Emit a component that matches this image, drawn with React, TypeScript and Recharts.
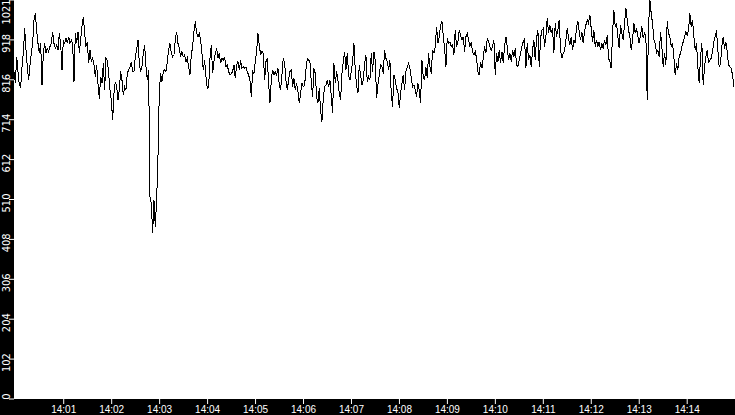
import React from 'react';
import { LineChart, Line, XAxis, YAxis, CartesianGrid } from 'recharts';

// Readings every ~1.67 s, starting 2.2 s before 14:00:00 (seconds since 14:00:00)
const START_SEC = -2.2;
const STEP_SEC = 1.6677;

const part1 = [838, 808, 876, 838, 803, 798, 850, 885, 948, 893, 850, 816, 855, 885, 910, 970, 987, 944, 910, 885, 910, 803, 885, 910, 885, 897, 889, 902, 910, 940, 910, 897, 906, 893, 936, 910, 842, 919, 910, 923, 910, 927, 910, 919, 910, 812, 936, 910, 940, 885, 919, 953, 978, 936, 902, 914, 859, 893, 863, 872, 855, 825, 855, 808, 769, 825, 808, 859, 791, 872, 867, 833, 791, 765, 714, 782, 812, 799, 765, 791, 838, 816, 778, 799, 791, 833, 842, 850, 863, 838];
const part2 = [838, 876, 893, 919, 859, 838, 850, 885, 906, 850, 816, 842, 518, 501, 424, 509, 441, 509, 620, 786, 833, 812, 838, 842, 838, 863, 893, 910, 885, 876, 880, 919, 940, 910, 897, 876, 889, 876, 880, 863, 872, 850, 829, 880, 902, 940, 966, 936, 927, 936, 919, 885, 842, 867, 825, 795, 799, 872, 906, 833, 863, 885, 897, 872, 885, 859, 872, 867, 876, 850, 855, 838, 829, 833, 838, 855, 821, 855, 863, 842, 867, 846, 850, 846, 850, 838, 829, 816, 774, 838];
const part3 = [833, 863, 889, 936, 906, 880, 889, 885, 816, 863, 872, 808, 757, 816, 842, 829, 838, 829, 846, 803, 791, 829, 872, 859, 816, 791, 816, 838, 842, 799, 821, 791, 808, 786, 757, 782, 808, 799, 803, 842, 872, 867, 863, 812, 774, 846, 833, 774, 757, 795, 739, 710, 769, 799, 803, 816, 799, 816, 774, 731, 859, 808, 838, 816, 782, 765, 833, 863, 889, 842, 885, 829, 816, 838, 863, 910, 842, 803, 782, 855, 829, 803, 816, 859, 880, 812, 825, 816, 885, 838];
const part4 = [889, 867, 769, 803, 829, 855, 850, 833, 893, 872, 863, 842, 867, 782, 748, 829, 816, 795, 786, 744, 782, 808, 829, 791, 838, 850, 859, 846, 821, 799, 803, 791, 774, 808, 791, 757, 867, 825, 816, 850, 821, 885, 850, 833, 893, 885, 902, 953, 910, 927, 957, 966, 931, 897, 850, 923, 910, 914, 902, 906, 880, 944, 902, 914, 944, 931, 919, 927, 889, 927, 936, 919, 902, 914, 889, 880, 889, 872, 838, 829, 863, 846, 872, 902, 885, 923, 914, 902, 893, 902];
const part5 = [919, 829, 885, 863, 893, 859, 889, 859, 902, 927, 902, 867, 885, 863, 893, 876, 897, 855, 850, 867, 885, 902, 914, 923, 846, 910, 867, 880, 850, 893, 919, 867, 923, 944, 850, 923, 944, 948, 902, 927, 974, 936, 957, 936, 948, 885, 961, 927, 944, 970, 893, 872, 885, 889, 919, 948, 923, 906, 927, 893, 919, 910, 953, 966, 940, 919, 940, 910, 940, 957, 970, 961, 983, 948, 914, 944, 902, 919, 902, 914, 893, 910, 897, 919, 906, 931, 872, 863, 846, 936];
const part6 = [995, 953, 961, 927, 897, 957, 936, 919, 961, 1000, 970, 944, 927, 893, 919, 961, 936, 948, 927, 910, 931, 953, 923, 936, 927, 765, 953, 1021, 987, 961, 919, 910, 885, 893, 876, 940, 902, 850, 885, 855, 966, 936, 927, 902, 910, 876, 829, 859, 842, 876, 885, 902, 914, 927, 940, 931, 944, 987, 953, 970, 927, 893, 910, 850, 808, 876, 910, 803, 850, 876, 893, 859, 867, 872, 889, 914, 927, 944, 893, 850, 859, 902, 927, 897, 914, 889, 855, 850, 846, 829, 799];

const values = [...part1, ...part2, ...part3, ...part4, ...part5, ...part6];

const xTickSeconds = [60, 120, 180, 240, 300, 360, 420, 480, 540, 600, 660, 720, 780, 840];
const xTickLabels = ['14:01', '14:02', '14:03', '14:04', '14:05', '14:06', '14:07', '14:08', '14:09', '14:10', '14:11', '14:12', '14:13', '14:14'];

const yTickValues = [0, 102.1, 204.2, 306.3, 408.4, 510.5, 612.6, 714.7, 816.8, 918.9, 1021];
const yTickLabels = ['0', '102', '204', '306', '408', '510', '612', '714', '816', '918', '1021'];

const data = values.map((v, i) => ({ t: START_SEC + i * STEP_SEC, v }));

const YTick = (props: any) => {
  const { y, payload } = props;
  const idx = yTickValues.indexOf(payload.value);
  const label = idx >= 0 ? yTickLabels[idx] : String(payload.value);
  const w = label.length * 5;
  let cy = y + 3.5;
  if (cy - w / 2 < 2) cy = 2 + w / 2;
  if (cy + w / 2 > 399) cy = 399 - w / 2;
  const bx = 10;
  return (
    <text
      x={bx}
      y={cy}
      transform={`rotate(-90 ${bx} ${cy})`}
      textAnchor="middle"
      fill="#fff"
      fontSize={11}
      fontFamily="'Liberation Sans Narrow', 'DejaVu Sans Condensed', 'Liberation Sans', sans-serif"
    >
      {label}
    </text>
  );
};

export default function App() {
  return (
    <div style={{ position: 'fixed', left: 0, top: 0, width: 735, height: 415, background: '#000' }}>
      <LineChart width={735} height={415} data={data} margin={{ top: 0, right: 0, bottom: 0, left: 0 }}>
        <CartesianGrid fill="#fff" stroke="none" horizontal={false} vertical={false} />
        <XAxis
          type="number"
          dataKey="t"
          domain={[-2.2, 899.8]}
          ticks={xTickSeconds}
          interval={0}
          allowDataOverflow
          height={16}
          tickSize={5}
          tickMargin={2}
          axisLine={false}
          tickLine={{ stroke: '#fff' }}
          tick={{ fill: '#fff', fontSize: 10, fontFamily: "'Liberation Sans', Arial, sans-serif" }}
          tickFormatter={(s: number) => xTickLabels[xTickSeconds.indexOf(s)] ?? ''}
        />
        <YAxis
          type="number"
          domain={[0, 1021]}
          ticks={yTickValues}
          interval={0}
          width={14}
          tickSize={5}
          axisLine={false}
          tickLine={{ stroke: '#fff' }}
          tick={<YTick />}
        />
        <Line
          type="linear"
          dataKey="v"
          stroke="#000"
          strokeWidth={1}
          dot={false}
          activeDot={false}
          isAnimationActive={false}
          style={{ shapeRendering: 'crispEdges' }}
        />
      </LineChart>
    </div>
  );
}
